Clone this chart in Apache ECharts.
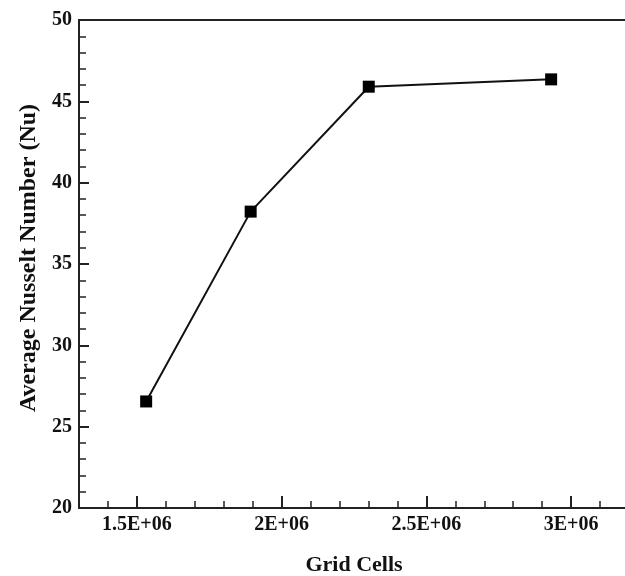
<!DOCTYPE html>
<html>
<head>
<meta charset="utf-8">
<script src="https://cdn.jsdelivr.net/npm/echarts@6/dist/echarts.min.js"></script>
<style>html,body{margin:0;padding:0;background:#fff}#c{width:625px;height:576px}</style>
</head>
<body>
<div id="c"></div>
<script>
var gridCells = [1.532e6, 1.893e6, 2.301e6, 2.931e6];
var nusselt = [26.55, 38.22, 45.9, 46.35];
var xMajorTicks = [1.5e6, 2e6, 2.5e6, 3e6];
var xTitle = 'Grid Cells';
var yTitle = 'Average Nusselt Number (Nu)';

var font = 'Liberation Serif';
var chart = echarts.init(document.getElementById('c'));
var data = gridCells.map(function (x, i) { return [x, nusselt[i]]; });
chart.setOption({
  animation: false,
  grid: { left: 79, top: 20, width: 550, height: 488, outerBoundsMode: 'none', containLabel: false,
          show: true, borderColor: '#222', borderWidth: 2, backgroundColor: 'transparent' },
  xAxis: [{
    type: 'value', min: 1.3e6, max: 3.2e6, interval: 1e5,
    name: xTitle, nameLocation: 'middle', nameGap: 46,
    nameTextStyle: { fontFamily: font, fontWeight: 'bold', fontSize: 22, color: '#111' },
    axisLine: { lineStyle: { color: '#222', width: 2 } },
    axisTick: { inside: true, length: 7, lineStyle: { color: '#222', width: 1.5 } },
    axisLabel: { show: false },
    splitLine: { show: false }
  }, {
    type: 'value', min: 1.3e6, max: 3.2e6, position: 'bottom',
    axisLine: { show: false },
    axisTick: { inside: true, length: 12, customValues: xMajorTicks, lineStyle: { color: '#222', width: 2 } },
    axisLabel: {
      customValues: xMajorTicks, margin: 7,
      fontFamily: font, fontWeight: 'bold', fontSize: 20, color: '#111',
      formatter: function (v) { return (v / 1e6) + 'E+06'; }
    },
    splitLine: { show: false }
  }],
  yAxis: {
    type: 'value', min: 20, max: 50, interval: 5,
    name: yTitle, nameLocation: 'middle', nameGap: 35,
    nameTextStyle: { fontFamily: font, fontWeight: 'bold', fontSize: 24, color: '#111', padding: [0, 0, 0, 12] },
    axisLine: { lineStyle: { color: '#222', width: 2 } },
    axisTick: { inside: true, length: 10, lineStyle: { color: '#222', width: 2 } },
    minorTick: { show: true, splitNumber: 5, length: 7, lineStyle: { color: '#222', width: 1.5 } },
    axisLabel: { margin: 7, fontFamily: font, fontWeight: 'bold', fontSize: 20, color: '#111' },
    splitLine: { show: false }
  },
  series: [{
    type: 'line', xAxisIndex: 0, data: data,
    symbol: 'rect', symbolSize: 12,
    lineStyle: { color: '#111', width: 2 },
    itemStyle: { color: '#000' }
  }]
});
</script>
</body>
</html>
